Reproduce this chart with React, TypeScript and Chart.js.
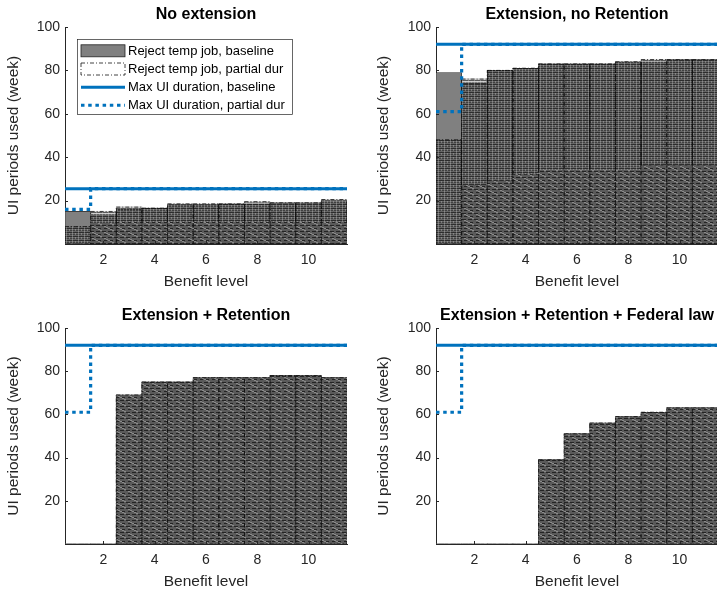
import React, { useEffect, useRef } from 'react';
import { Chart, registerables } from 'chart.js';

Chart.register(...registerables);

const FONT = '"Liberation Sans", Arial, Helvetica, sans-serif';

const benefitLevels = [1, 2, 3, 4, 5, 6, 7, 8, 9, 10, 11];
const xTickValues = [2, 4, 6, 8, 10];
const yTickValues = [20, 40, 60, 80, 100];

const legendLabels = [
  'Reject temp job, baseline',
  'Reject temp job, partial dur',
  'Max UI duration, baseline',
  'Max UI duration, partial dur',
];

// Panel 1: No extension
const noExtTitle = 'No extension';
const noExtBaseline = [15, 13.5, 16, 16.5, 18, 18, 18.5, 18.5, 19, 19, 19.5];
const noExtPartial = [8, 15, 17, 16.5, 18.5, 18.5, 18.5, 19.5, 19, 19, 20.5];
const noExtLower = [0, 9.5, 10, 10, 10, 10, 10, 10, 10, 10, 10];
const noExtMaxBaseline = [25.5, 25.5, 25.5, 25.5, 25.5, 25.5, 25.5, 25.5, 25.5, 25.5, 25.5];
const noExtMaxPartial = [16, 25.5, 25.5, 25.5, 25.5, 25.5, 25.5, 25.5, 25.5, 25.5, 25.5];

// Panel 2: Extension, no Retention
const extNoRetTitle = 'Extension, no Retention';
const extNoRetBaseline = [79, 74, 80, 81, 83, 83, 83, 84, 84, 85, 85];
const extNoRetPartial = [48, 76, 80, 81, 83, 83, 83, 84, 85, 85, 85];
const extNoRetLower = [0, 27, 29, 32, 34, 34, 34, 34, 36, 36, 36];
const extNoRetMaxBaseline = [92, 92, 92, 92, 92, 92, 92, 92, 92, 92, 92];
const extNoRetMaxPartial = [61, 92, 92, 92, 92, 92, 92, 92, 92, 92, 92];

// Panel 3: Extension + Retention
const extRetTitle = 'Extension + Retention';
const extRetBaseline = [0, 0, 69, 75, 75, 77, 77, 77, 78, 78, 77];
const extRetPartial = [0, 0, 69, 75, 75, 77, 77, 77, 78, 78, 77];
const extRetLower = [0, 0, 69, 75, 75, 77, 77, 77, 78, 78, 77];
const extRetMaxBaseline = [92, 92, 92, 92, 92, 92, 92, 92, 92, 92, 92];
const extRetMaxPartial = [61, 92, 92, 92, 92, 92, 92, 92, 92, 92, 92];

// Panel 4: Extension + Retention + Federal law
const extFedTitle = 'Extension + Retention + Federal law';
const extFedBaseline = [0, 0, 0, 0, 39, 51, 56, 59, 61, 63, 63];
const extFedPartial = [0, 0, 0, 0, 39, 51, 56, 59, 61, 63, 63];
const extFedLower = [0, 0, 0, 0, 39, 51, 56, 59, 61, 63, 63];
const extFedMaxBaseline = [92, 92, 92, 92, 92, 92, 92, 92, 92, 92, 92];
const extFedMaxPartial = [61, 92, 92, 92, 92, 92, 92, 92, 92, 92, 92];

const BLUE = '#0072BD';
const AXIS = '#262626';

function makeGridPattern(ctx: CanvasRenderingContext2D) {
  const c = document.createElement('canvas');
  c.width = 6;
  c.height = 4;
  const g = c.getContext('2d')!;
  g.clearRect(0, 0, 6, 4);
  g.fillStyle = 'rgba(0,0,0,0.65)';
  g.fillRect(0, 0, 6, 1);
  g.fillStyle = 'rgba(0,0,0,0.5)';
  g.fillRect(0, 2, 6, 1);
  g.fillStyle = 'rgba(0,0,0,0.2)';
  g.fillRect(0, 1, 6, 1);
  g.fillRect(0, 3, 6, 1);
  g.fillStyle = 'rgba(225,225,225,0.3)';
  g.fillRect(0, 0, 1, 4);
  g.fillRect(3, 1, 1, 2);
  return ctx.createPattern(c, 'repeat')!;
}

function makeDiagPattern(ctx: CanvasRenderingContext2D) {
  const c = document.createElement('canvas');
  c.width = 12;
  c.height = 6;
  const g = c.getContext('2d')!;
  g.fillStyle = '#5a5a5a';
  g.fillRect(0, 0, 12, 6);
  g.fillStyle = '#8a8a8a';
  for (let i = 0; i < 12; i++) {
    const y = Math.floor(i / 2) % 6;
    g.fillRect(i, y, 1, 1);
  }
  g.fillStyle = '#242424';
  g.fillRect(0, 3, 4, 1);
  g.fillRect(6, 3, 4, 1);
  g.fillRect(2, 0, 3, 1);
  g.fillRect(8, 0, 3, 1);
  return ctx.createPattern(c, 'repeat')!;
}

function stepPoints(arr: number[]) {
  const pts = benefitLevels.map((b, i) => ({ x: b - 0.5, y: arr[i] }));
  const last = benefitLevels.length - 1;
  pts.push({ x: benefitLevels[last] + 0.5, y: arr[last] });
  return pts;
}

function barPoints(arr: number[]) {
  return benefitLevels.map((b, i) => ({ x: b, y: arr[i] }));
}

const inwardTicksPlugin = {
  id: 'inwardTicks',
  afterDraw(chart: any) {
    const { ctx, chartArea, scales } = chart;
    ctx.save();
    ctx.strokeStyle = AXIS;
    ctx.lineWidth = 1;
    ctx.beginPath();
    yTickValues.forEach((v) => {
      const py = Math.round(scales.y.getPixelForValue(v)) + 0.5;
      ctx.moveTo(chartArea.left, py);
      ctx.lineTo(chartArea.left + 3, py);
    });
    xTickValues.forEach((v) => {
      const px = Math.round(scales.x.getPixelForValue(v)) + 0.5;
      ctx.moveTo(px, chartArea.bottom);
      ctx.lineTo(px, chartArea.bottom - 3);
    });
    ctx.stroke();
    ctx.restore();
  },
};

const outlinePlugin = {
  id: 'partialOutline',
  afterDatasetDraw(chart: any, args: any) {
    const ds = chart.data.datasets[args.index];
    if (ds.label !== 'lower') return;
    const pIdx = chart.data.datasets.findIndex((d: any) => d.label === legendLabels[1]);
    const meta = chart.getDatasetMeta(pIdx);
    const { ctx, chartArea } = chart;
    ctx.save();
    ctx.beginPath();
    ctx.rect(chartArea.left, chartArea.top, chartArea.right - chartArea.left, chartArea.bottom - chartArea.top);
    ctx.clip();
    ctx.setLineDash([4, 2, 1, 2]);
    ctx.strokeStyle = '#111';
    ctx.lineWidth = 0.8;
    meta.data.forEach((el: any) => {
      const { x, y, base, width } = el.getProps(['x', 'y', 'base', 'width'], true);
      if (Math.abs(base - y) < 0.5) return;
      ctx.strokeRect(x - width / 2, y, width, base - y);
    });
    ctx.restore();
  },
};

const legendPlugin = {
  id: 'matlabLegend',
  afterDraw(chart: any) {
    if (!chart.options.plugins.matlabLegend || !chart.options.plugins.matlabLegend.show) return;
    const { ctx, chartArea } = chart;
    const left = chartArea.left + 12;
    const top = chartArea.top + 12;
    const w = 215;
    const h = 75;
    ctx.save();
    ctx.fillStyle = '#fff';
    ctx.fillRect(left, top, w, h);
    ctx.strokeStyle = AXIS;
    ctx.lineWidth = 0.7;
    ctx.strokeRect(left + 0.5, top + 0.5, w, h);
    const rows = [11.8, 30, 48.3, 66.3];
    const ix0 = left + 4;
    const ix1 = left + 48;
    ctx.fillStyle = '#808080';
    ctx.fillRect(ix0, top + rows[0] - 6, ix1 - ix0, 12);
    ctx.strokeStyle = '#222';
    ctx.lineWidth = 0.8;
    ctx.strokeRect(ix0, top + rows[0] - 6, ix1 - ix0, 12);
    ctx.setLineDash([4, 2, 1, 2]);
    ctx.strokeStyle = '#111';
    ctx.strokeRect(ix0, top + rows[1] - 6, ix1 - ix0, 12);
    ctx.setLineDash([]);
    ctx.strokeStyle = BLUE;
    ctx.lineWidth = 3;
    ctx.beginPath();
    ctx.moveTo(ix0, top + rows[2]);
    ctx.lineTo(ix1, top + rows[2]);
    ctx.stroke();
    ctx.setLineDash([3.5, 3.7]);
    ctx.beginPath();
    ctx.moveTo(ix0, top + rows[3]);
    ctx.lineTo(ix1, top + rows[3]);
    ctx.stroke();
    ctx.setLineDash([]);
    ctx.fillStyle = '#000';
    ctx.font = `13px ${FONT}`;
    ctx.textBaseline = 'middle';
    ctx.textAlign = 'left';
    legendLabels.forEach((t, i) => {
      ctx.fillText(t, left + 51, top + rows[i] + 0.5);
    });
    ctx.restore();
  },
};

type PanelProps = {
  title: string;
  baseline: number[];
  partial: number[];
  lower: number[];
  maxBaseline: number[];
  maxPartial: number[];
  left: number;
  top: number;
  width: number;
  height: number;
  yWidth: number;
  xHeight: number;
  yTitlePad: number;
  titleTop: number;
  titleBottom: number;
  xTitleBottom: number;
  padRight: number;
  showLegend: boolean;
};

function Panel(p: PanelProps) {
  const ref = useRef<HTMLCanvasElement | null>(null);
  useEffect(() => {
    const canvas = ref.current!;
    const ctx = canvas.getContext('2d')!;
    const gridPat = makeGridPattern(ctx);
    const diagPat = makeDiagPattern(ctx);
    const chart = new Chart(ctx, {
      type: 'bar',
      data: {
        datasets: [
          {
            type: 'line',
            label: legendLabels[2],
            data: stepPoints(p.maxBaseline),
            borderColor: BLUE,
            borderWidth: 3,
            pointRadius: 0,
            stepped: 'before',
            fill: false,
            order: 1,
          } as any,
          {
            type: 'line',
            label: legendLabels[3],
            data: stepPoints(p.maxPartial),
            borderColor: BLUE,
            borderWidth: 3.2,
            borderDash: [3.5, 3.7],
            borderCapStyle: 'butt',
            pointRadius: 0,
            stepped: 'before',
            fill: false,
            order: 2,
          } as any,
          {
            type: 'bar',
            label: 'lower',
            data: barPoints(p.lower),
            backgroundColor: diagPat,
            borderWidth: 0,
            grouped: false,
            barPercentage: 1,
            categoryPercentage: 1,
            order: 3,
          } as any,
          {
            type: 'bar',
            label: legendLabels[1],
            data: barPoints(p.partial),
            backgroundColor: gridPat,
            borderWidth: 0,
            grouped: false,
            barPercentage: 1,
            categoryPercentage: 1,
            order: 4,
          } as any,
          {
            type: 'bar',
            label: legendLabels[0],
            data: barPoints(p.baseline),
            backgroundColor: '#808080',
            borderColor: '#2a2a2a',
            borderWidth: 0.7,
            borderSkipped: 'start',
            grouped: false,
            barPercentage: 1,
            categoryPercentage: 1,
            order: 5,
          } as any,
        ],
      },
      options: {
        animation: false,
        responsive: false,
        devicePixelRatio: 1,
        layout: { padding: { left: 0, right: p.padRight, top: 0, bottom: 0 } },
        plugins: {
          legend: { display: false },
          tooltip: { enabled: false },
          title: {
            display: true,
            text: p.title,
            fullSize: false,
            color: '#000',
            font: { family: FONT, size: 16, weight: 'bold', lineHeight: 1.2 },
            padding: { top: p.titleTop, bottom: p.titleBottom },
          },
          matlabLegend: { show: p.showLegend },
        } as any,
        scales: {
          x: {
            type: 'linear',
            min: 0.5,
            max: 11.5,
            offset: false,
            afterFit: (s: any) => {
              s.height = p.xHeight;
            },
            afterBuildTicks: (s: any) => {
              s.ticks = xTickValues.map((v) => ({ value: v }));
            },
            grid: { display: false, drawTicks: false },
            border: { display: true, color: AXIS, width: 1 },
            ticks: {
              padding: 7.6,
              color: AXIS,
              font: { family: FONT, size: 14, lineHeight: 1.2 },
              maxRotation: 0,
              autoSkip: false,
            },
            title: {
              display: true,
              text: 'Benefit level',
              color: AXIS,
              font: { family: FONT, size: 15.5, lineHeight: 1.2 },
              padding: { top: 0, bottom: p.xTitleBottom },
            },
          },
          y: {
            type: 'linear',
            min: 0,
            max: 100,
            afterFit: (s: any) => {
              s.width = p.yWidth;
            },
            afterBuildTicks: (s: any) => {
              s.ticks = yTickValues.map((v) => ({ value: v }));
            },
            grid: { display: false, drawTicks: false },
            border: { display: true, color: AXIS, width: 1 },
            ticks: {
              padding: 5,
              color: AXIS,
              font: { family: FONT, size: 14, lineHeight: 1.2 },
            },
            title: {
              display: true,
              text: 'UI periods used (week)',
              color: AXIS,
              font: { family: FONT, size: 15.5, lineHeight: 1.2 },
              padding: { top: p.yTitlePad, bottom: 0 },
            },
          },
        },
      } as any,
      plugins: [outlinePlugin, inwardTicksPlugin, legendPlugin],
    });
    return () => chart.destroy();
  }, []);
  return (
    <canvas
      ref={ref}
      width={p.width}
      height={p.height}
      style={{ position: 'absolute', left: p.left, top: p.top, width: p.width, height: p.height }}
    />
  );
}

export default function App() {
  return (
    <div style={{ position: 'absolute', left: 0, top: 0, width: 717, height: 591, background: '#fff', overflow: 'hidden' }}>
      <Panel
        title={noExtTitle}
        baseline={noExtBaseline}
        partial={noExtPartial}
        lower={noExtLower}
        maxBaseline={noExtMaxBaseline}
        maxPartial={noExtMaxPartial}
        left={0}
        top={0}
        width={360}
        height={295}
        yWidth={65}
        xHeight={51}
        yTitlePad={4.7}
        titleTop={5.4}
        titleBottom={2.4}
        xTitleBottom={4}
        padRight={13}
        showLegend={true}
      />
      <Panel
        title={extNoRetTitle}
        baseline={extNoRetBaseline}
        partial={extNoRetPartial}
        lower={extNoRetLower}
        maxBaseline={extNoRetMaxBaseline}
        maxPartial={extNoRetMaxPartial}
        left={360}
        top={0}
        width={358}
        height={295}
        yWidth={76}
        xHeight={51}
        yTitlePad={14.7}
        titleTop={5.4}
        titleBottom={2.4}
        xTitleBottom={4}
        padRight={0}
        showLegend={false}
      />
      <Panel
        title={extRetTitle}
        baseline={extRetBaseline}
        partial={extRetPartial}
        lower={extRetLower}
        maxBaseline={extRetMaxBaseline}
        maxPartial={extRetMaxPartial}
        left={0}
        top={295}
        width={360}
        height={296}
        yWidth={65}
        xHeight={47}
        yTitlePad={4.7}
        titleTop={11.4}
        titleBottom={2.4}
        xTitleBottom={0}
        padRight={13}
        showLegend={false}
      />
      <Panel
        title={extFedTitle}
        baseline={extFedBaseline}
        partial={extFedPartial}
        lower={extFedLower}
        maxBaseline={extFedMaxBaseline}
        maxPartial={extFedMaxPartial}
        left={360}
        top={295}
        width={358}
        height={296}
        yWidth={76}
        xHeight={47}
        yTitlePad={14.7}
        titleTop={11.4}
        titleBottom={2.4}
        xTitleBottom={0}
        padRight={0}
        showLegend={false}
      />
    </div>
  );
}
